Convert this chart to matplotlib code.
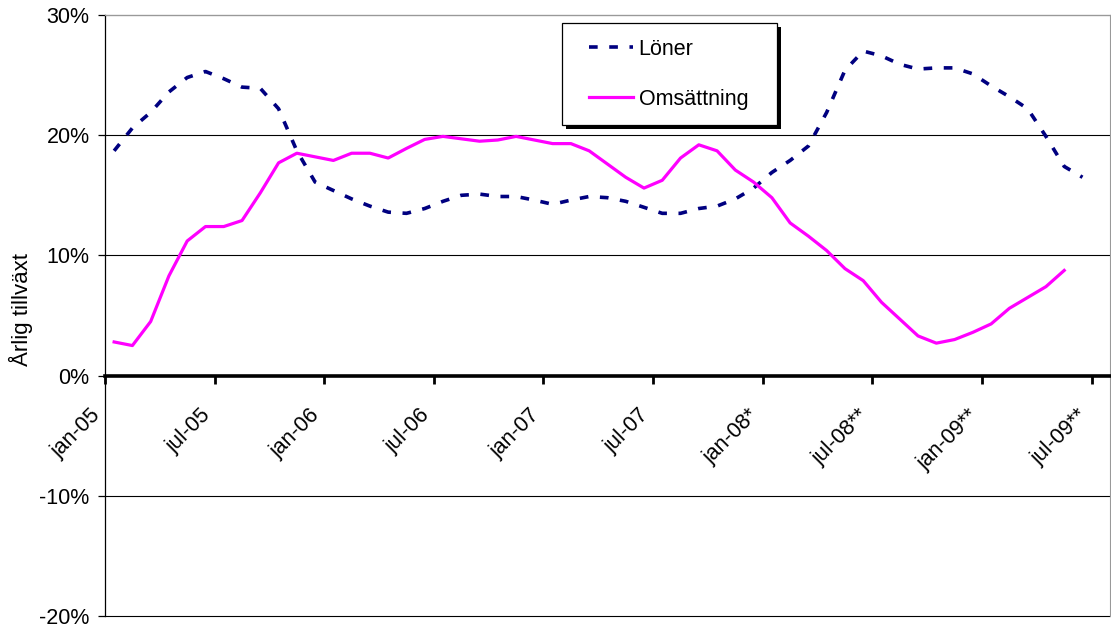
import matplotlib.pyplot as plt
from matplotlib.patches import Rectangle
import numpy as np

plt.rcParams['font.family'] = ['Liberation Sans', 'DejaVu Sans']

# monthly annual growth in percent, jan-05 onwards
loner = [18.7, 20.6, 21.9, 23.6, 24.8, 25.3, 24.7, 24.0, 23.9, 22.2,
         18.7, 16.1, 15.4, 14.7, 14.1, 13.6, 13.5, 13.9, 14.5, 15.0,
         15.1, 14.9, 14.9, 14.6, 14.25, 14.6, 14.9, 14.8, 14.5, 14.0,
         13.5, 13.5, 13.9, 14.1, 14.7, 15.6, 16.9, 17.9, 19.1, 21.9,
         25.4, 27.0, 26.6, 25.9, 25.5, 25.6, 25.6, 25.1, 24.1, 23.2,
         22.2, 19.9, 17.4, 16.5]
omsattning = [2.8, 2.5, 4.5, 8.3, 11.2, 12.4, 12.4, 12.9, 15.2, 17.7,
              18.5, 18.2, 17.9, 18.5, 18.5, 18.1, 18.9, 19.65, 19.9, 19.7,
              19.5, 19.6, 19.9, 19.6, 19.3, 19.3, 18.7, 17.6, 16.5, 15.6,
              16.25, 18.1, 19.2, 18.7, 17.1, 16.1, 14.8, 12.7, 11.6, 10.4,
              8.9, 7.9, 6.1, 4.7, 3.3, 2.7, 3.0, 3.6, 4.3, 5.6,
              6.5, 7.4, 8.75]

tick_labels = ['jan-05', 'jul-05', 'jan-06', 'jul-06', 'jan-07', 'jul-07',
               'jan-08*', 'jul-08**', 'jan-09**', 'jul-09**']
n_months = 55

fig = plt.figure(figsize=(11.11, 6.30), dpi=100)
ax = fig.add_axes([0.0945, 0.0222, 0.9045, 0.954])

x_l = np.arange(len(loner)) + 0.5
x_o = np.arange(len(omsattning)) + 0.5
ax.plot(x_l, loner, color='#000080', lw=2.6, ls=(0, (2.4, 3.2)),
        label='Löner', zorder=3)
ax.plot(x_o, omsattning, color='#FF00FF', lw=2.3, label='Omsättning',
        zorder=3)

ax.set_xlim(0, n_months)
ax.set_ylim(-20, 30)

yt = np.arange(-20, 31, 10)
ax.set_yticks(yt)
ax.set_yticklabels([f'{v}%' for v in yt], fontsize=15.5)
for v in yt:
    if v != 0:
        ax.axhline(v, color='black', lw=0.8, zorder=1, clip_on=False)

ax.spines['bottom'].set_position(('data', 0))
ax.spines['bottom'].set_linewidth(2.6)
ax.spines['bottom'].set_zorder(4)
ax.spines['left'].set_linewidth(0.9)
ax.spines['top'].set_color('#999999')
ax.spines['right'].set_color('#999999')
ax.tick_params(axis='y', direction='out', length=5, width=0.9, pad=6)

xt = np.arange(0, n_months, 6)
ax.set_xticks(xt)
ax.set_xticklabels(tick_labels, fontsize=15.5, rotation=45, ha='right',
                   va='top')
ax.tick_params(axis='x', direction='out', length=6, width=2, pad=15)

ax.set_ylabel('Årlig tillväxt', fontsize=16)
ax.yaxis.set_label_coords(-0.0716, 0.51)

# legend frame with a solid black drop shadow
frame_x, frame_y = 562 / 1111, 1 - 125 / 630
frame_w, frame_h = 215 / 1111, 102 / 630
fig.patches.append(Rectangle((frame_x + 4 / 1111, frame_y - 4 / 630),
                             frame_w, frame_h, transform=fig.transFigure,
                             facecolor='black', edgecolor='none', zorder=5))
fig.patches.append(Rectangle((frame_x, frame_y), frame_w, frame_h,
                             transform=fig.transFigure, facecolor='white',
                             edgecolor='black', lw=0.9, zorder=6))
handles, labels = ax.get_legend_handles_labels()
leg = fig.legend(handles, labels, loc='upper left',
                 bbox_to_anchor=(589 / 1111, 1 - 39 / 630),
                 fontsize=15.5, frameon=False, handlelength=2.05,
                 handletextpad=0.25, labelspacing=1.34, borderpad=0,
                 borderaxespad=0)
leg.set_zorder(7)

fig.savefig('out.png', dpi=100)
